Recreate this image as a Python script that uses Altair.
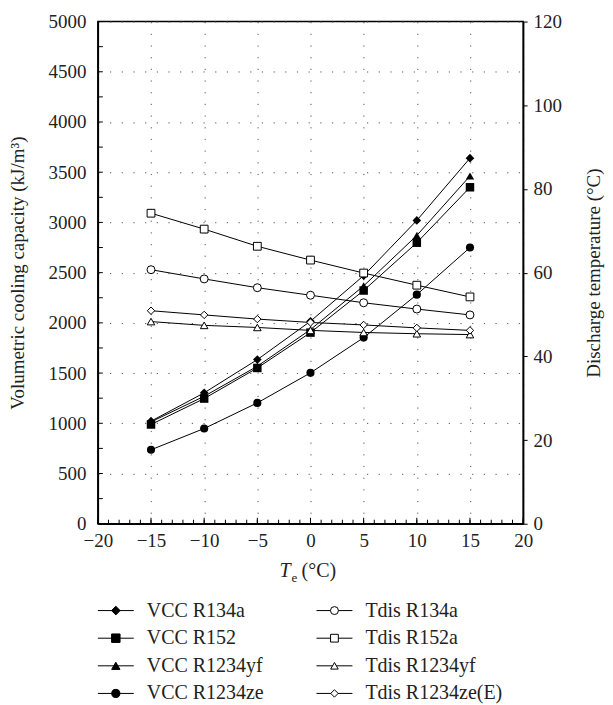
import altair as alt
import pandas as pd

FONT = "Liberation Serif"

# ---------------- data ----------------
te = [-15, -10, -5, 0, 5, 10, 15]

vcc_names = ["VCC R134a", "VCC R152", "VCC R1234yf", "VCC R1234ze"]
vcc_r134a = [1021, 1303, 1634, 2016, 2470, 3020, 3640]
vcc_r152 = [988, 1246, 1551, 1903, 2322, 2798, 3350]
vcc_r1234yf = [1014, 1269, 1568, 1933, 2368, 2870, 3462]
vcc_r1234ze = [736, 948, 1203, 1502, 1853, 2281, 2750]

tdis_names = ["Tdis R134a", "Tdis R152a", "Tdis R1234yf", "Tdis R1234ze(E)"]
tdis_r134a = [60.7, 58.5, 56.4, 54.6, 52.8, 51.3, 49.9]
tdis_r152a = [74.2, 70.4, 66.3, 63.0, 59.9, 57.0, 54.2]
tdis_r1234yf = [48.3, 47.4, 46.9, 46.2, 45.7, 45.4, 45.2]
tdis_r1234ze = [50.9, 49.9, 48.9, 48.1, 47.5, 46.8, 46.2]

x_major = [-20, -15, -10, -5, 0, 5, 10, 15, 20]
x_minor = list(range(-20, 21))
y_left_major = [0, 500, 1000, 1500, 2000, 2500, 3000, 3500, 4000, 4500, 5000]
y_left_minor = list(range(0, 5001, 250))
y_right_major = [0, 20, 40, 60, 80, 100, 120]

all_names = vcc_names + tdis_names
shapes = ["diamond", "square", "triangle-up", "circle",
          "circle", "square", "triangle-up", "diamond"]
sizes = [75, 55, 75, 125, 80, 55, 65, 65]

# ---------------- tables ----------------
vcc_df = pd.DataFrame(
    [{"series": n, "te": t, "value": v}
     for n, vals in zip(vcc_names, [vcc_r134a, vcc_r152, vcc_r1234yf, vcc_r1234ze])
     for t, v in zip(te, vals)]
)
tdis_df = pd.DataFrame(
    [{"series": n, "te": t, "temp": v}
     for n, vals in zip(tdis_names, [tdis_r134a, tdis_r152a, tdis_r1234yf, tdis_r1234ze])
     for t, v in zip(te, vals)]
)

W, H = 426, 503
FS = 19

shape_scale = alt.Scale(domain=all_names, range=shapes)
size_scale = alt.Scale(domain=all_names, range=sizes)

x_enc = alt.X(
    "te:Q",
    scale=alt.Scale(domain=[-20, 20], nice=False, zero=False),
    axis=alt.Axis(
        values=x_major, title=None, ticks=False, grid=True, format="d",
        gridDash=[1.2, 10.5], gridColor="#555", gridWidth=1,
        domainColor="black", domainWidth=1.5, labelFont=FONT, labelFontSize=FS,
        labelColor="#222", labelPadding=8, labelFlush=False,
    ),
)

y_left = alt.Y(
    "value:Q",
    scale=alt.Scale(domain=[0, 5000], nice=False),
    axis=alt.Axis(
        values=y_left_major, title="Volumetric cooling capacity (kJ/m³)", format="d",
        ticks=False, grid=True, gridDash=[1.2, 10.5], gridColor="#555",
        domainColor="black", domainWidth=1.5, labelFont=FONT, labelFontSize=FS,
        labelColor="#222", labelPadding=12, labelFlush=False,
        titleFont=FONT, titleFontSize=FS, titleFontWeight="normal",
        titleColor="#222", titlePadding=20,
    ),
)

vcc_line = alt.Chart(vcc_df).mark_line(color="black", strokeWidth=1).encode(
    x=x_enc, y=y_left, detail="series:N"
)
vcc_pts = alt.Chart(vcc_df).mark_point(
    filled=True, color="black", opacity=1
).encode(
    x="te:Q", y="value:Q",
    shape=alt.Shape("series:N", scale=shape_scale, legend=None),
    size=alt.Size("series:N", scale=size_scale, legend=None),
)

# inward ticks on the bottom axis
xt_minor = alt.Chart(pd.DataFrame({"te": x_minor})).mark_rule(
    color="black", strokeWidth=1
).encode(x="te:Q", y=alt.value(H), y2=alt.value(H - 4))
xt_major = alt.Chart(pd.DataFrame({"te": x_major})).mark_rule(
    color="black", strokeWidth=1
).encode(x="te:Q", y=alt.value(H), y2=alt.value(H - 6))
# inward ticks on the left axis
yt_left = alt.Chart(pd.DataFrame({"value": y_left_minor})).mark_rule(
    color="black", strokeWidth=1
).encode(y="value:Q", x=alt.value(0), x2=alt.value(5))

# x-axis title with subscript
t_main = alt.Chart(pd.DataFrame({"t": ["T"]})).mark_text(
    font=FONT, fontSize=20, fontStyle="italic", align="left", baseline="alphabetic",
    color="#222"
).encode(text="t:N", x=alt.value(W / 2 - 31), y=alt.value(H + 53))
t_sub = alt.Chart(pd.DataFrame({"t": ["e"]})).mark_text(
    font=FONT, fontSize=13, align="left", baseline="alphabetic", color="#222"
).encode(text="t:N", x=alt.value(W / 2 - 19), y=alt.value(H + 58))
t_unit = alt.Chart(pd.DataFrame({"t": ["(°C)"]})).mark_text(
    font=FONT, fontSize=20, align="left", baseline="alphabetic", color="#222"
).encode(text="t:N", x=alt.value(W / 2 - 9), y=alt.value(H + 53))

left = alt.layer(vcc_line, vcc_pts, xt_minor, xt_major, yt_left, t_main, t_sub, t_unit)

y_right = alt.Y(
    "temp:Q",
    scale=alt.Scale(domain=[0, 120], nice=False),
    axis=alt.Axis(
        orient="right", values=y_right_major, title="Discharge temperature (°C)",
        grid=False, ticks=True, tickSize=4, tickColor="black", format="d",
        domainColor="black", domainWidth=1.5, labelFont=FONT, labelFontSize=FS,
        labelColor="#222", labelPadding=6, labelFlush=False,
        titleFont=FONT, titleFontSize=FS, titleFontWeight="normal",
        titleColor="#222", titlePadding=42, titleAngle=270,
    ),
)

tdis_line = alt.Chart(tdis_df).mark_line(color="black", strokeWidth=1).encode(
    x="te:Q", y=y_right, detail="series:N"
)
tdis_pts = alt.Chart(tdis_df).mark_point(
    filled=True, fill="white", stroke="black", strokeWidth=1, opacity=1
).encode(
    x="te:Q", y="temp:Q",
    shape=alt.Shape("series:N", scale=shape_scale, legend=None),
    size=alt.Size("series:N", scale=size_scale, legend=None),
)

right = alt.layer(tdis_line, tdis_pts)

main = alt.layer(left, right).resolve_scale(y="independent").properties(
    width=W, height=H,
    view=alt.ViewBackground(stroke="black", strokeWidth=1.5),
)

# ---------------- legend ----------------
leg_df = pd.DataFrame({
    "label": all_names,
    "col": [0, 0, 0, 0, 1, 1, 1, 1],
    "row": [0, 1, 2, 3, 0, 1, 2, 3],
    "kind": ["VCC"] * 4 + ["Tdis"] * 4,
})
lx = alt.X("col:Q", scale=alt.Scale(domain=[0, 1], range=[0, 219]), axis=None)
ly = alt.Y("row:Q", scale=alt.Scale(domain=[0, 3], range=[10, 93]), axis=None)

leg_rule = alt.Chart(leg_df).mark_rule(color="black", strokeWidth=1, x2Offset=36).encode(
    x=lx, x2="col:Q", y=ly
)
leg_pts = alt.Chart(leg_df).mark_point(
    filled=True, stroke="black", strokeWidth=1, opacity=1, xOffset=18
).encode(
    x="col:Q", y="row:Q",
    shape=alt.Shape("label:N", scale=shape_scale, legend=None),
    size=alt.Size("label:N", scale=size_scale, legend=None),
    fill=alt.Fill("kind:N", scale=alt.Scale(domain=["VCC", "Tdis"], range=["black", "white"]), legend=None),
)
leg_txt = alt.Chart(leg_df).mark_text(
    font=FONT, fontSize=20, align="left", baseline="middle", xOffset=49, color="#222"
).encode(x="col:Q", y="row:Q", text="label:N")

legend = alt.layer(leg_rule, leg_pts, leg_txt).properties(
    width=W, height=104, view=alt.ViewBackground(stroke="transparent")
)

chart = alt.vconcat(main, legend, spacing=14).properties(
    padding={"left": 0, "top": 3, "right": 0, "bottom": 0}
).configure_view(stroke="transparent").configure(background="white")

chart.save("out.html", embed_options={"renderer": "svg", "actions": False})
